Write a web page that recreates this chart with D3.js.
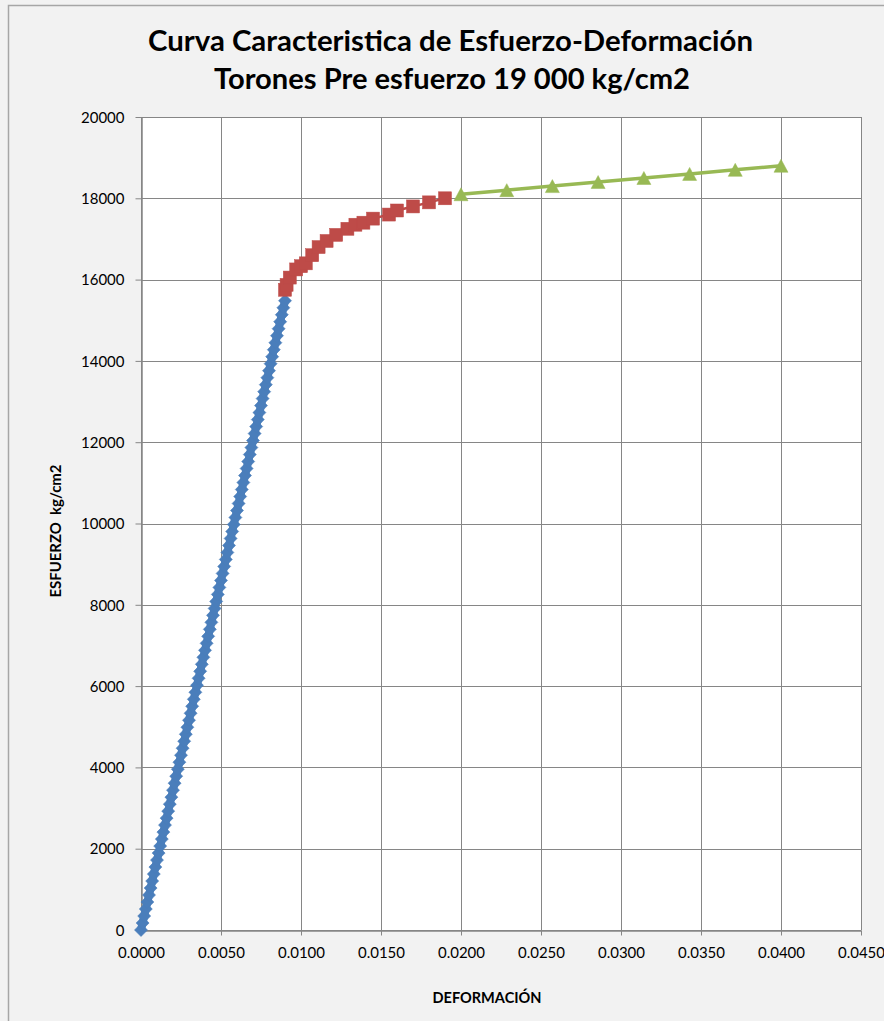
<!DOCTYPE html>
<html>
<head>
<meta charset="utf-8">
<script src="https://cdn.jsdelivr.net/npm/d3@7"></script>
<style>
  html, body { margin: 0; padding: 0; background: #f2f2f2; }
  svg { display: block; }
</style>
</head>
<body>
<script>
// ---- DATA ----
const titleLines = ["Curva Caracteristica de Esfuerzo-Deformación", "Torones Pre esfuerzo 19 000 kg/cm2"];
const xAxisTitle = "DEFORMACIÓN";
const yAxisTitle = "ESFUERZO  kg/cm2";
const xTicks = [0, 0.005, 0.01, 0.015, 0.02, 0.025, 0.03, 0.035, 0.04, 0.045];
const yTicks = [0, 2000, 4000, 6000, 8000, 10000, 12000, 14000, 16000, 18000, 20000];

// Elastic range (blue diamonds)
const elasticStrain = [
  0.0000, 0.0001, 0.0002, 0.0003, 0.0004, 0.0005, 0.0006, 0.0007, 0.0008, 0.0009,
  0.0010, 0.0011, 0.0012, 0.0013, 0.0014, 0.0015, 0.0016, 0.0017, 0.0018, 0.0019,
  0.0020, 0.0021, 0.0022, 0.0023, 0.0024, 0.0025, 0.0026, 0.0027, 0.0028, 0.0029,
  0.0030, 0.0031, 0.0032, 0.0033, 0.0034, 0.0035, 0.0036, 0.0037, 0.0038, 0.0039,
  0.0040, 0.0041, 0.0042, 0.0043, 0.0044, 0.0045, 0.0046, 0.0047, 0.0048, 0.0049,
  0.0050, 0.0051, 0.0052, 0.0053, 0.0054, 0.0055, 0.0056, 0.0057, 0.0058, 0.0059,
  0.0060, 0.0061, 0.0062, 0.0063, 0.0064, 0.0065, 0.0066, 0.0067, 0.0068, 0.0069,
  0.0070, 0.0071, 0.0072, 0.0073, 0.0074, 0.0075, 0.0076, 0.0077, 0.0078, 0.0079,
  0.0080, 0.0081, 0.0082, 0.0083, 0.0084, 0.0085, 0.0086, 0.0087, 0.0088, 0.0089,
  0.0090
];
const elasticStress = [
  0, 172, 344, 516, 688, 860, 1032, 1204, 1376, 1548,
  1720, 1892, 2064, 2236, 2408, 2580, 2752, 2924, 3096, 3268,
  3440, 3612, 3784, 3956, 4128, 4300, 4472, 4644, 4816, 4988,
  5160, 5332, 5504, 5676, 5848, 6020, 6192, 6364, 6536, 6708,
  6880, 7052, 7224, 7396, 7568, 7740, 7912, 8084, 8256, 8428,
  8600, 8772, 8944, 9116, 9288, 9460, 9632, 9804, 9976, 10148,
  10320, 10492, 10664, 10836, 11008, 11180, 11352, 11524, 11696, 11868,
  12040, 12212, 12384, 12556, 12728, 12900, 13072, 13244, 13416, 13588,
  13760, 13932, 14104, 14276, 14448, 14620, 14792, 14964, 15136, 15308,
  15480
];

// Yield zone (red squares)
const yieldStrain = [0.0090, 0.0091, 0.0093, 0.0097, 0.0100, 0.0103, 0.0107, 0.0111, 0.0116, 0.0122,
                     0.0129, 0.0134, 0.0139, 0.0145, 0.0155, 0.0160, 0.0170, 0.0180, 0.0190];
const yieldStress = [15750, 15870, 16050, 16250, 16330, 16400, 16600, 16800, 16950, 17100,
                     17250, 17350, 17400, 17500, 17600, 17700, 17800, 17900, 18000];

// Hardening zone (green triangles)
const hardStrain = [0.0200, 0.02286, 0.02571, 0.02857, 0.03143, 0.03429, 0.03714, 0.0400];
const hardStress = [18100, 18200, 18300, 18400, 18500, 18600, 18700, 18800];

// ---- LAYOUT ----
const W = 884, H = 1021;
const plot = { left: 141, right: 861, top: 117, bottom: 930 };
const font = "Lato, 'Open Sans', 'Liberation Sans', sans-serif";

const svg = d3.select("body").append("svg").attr("width", W).attr("height", H);

svg.append("rect").attr("x", 0).attr("y", 0).attr("width", W).attr("height", H).attr("fill", "#f2f2f2");
// chart outer border (top and left visible)
svg.append("path").attr("d", `M8.5,${H} L8.5,5.5 L${W},5.5`).attr("fill", "none")
  .attr("stroke", "#a6a6a6").attr("stroke-width", 1.5);

const x = d3.scaleLinear().domain([0, 0.045]).range([plot.left, plot.right]);
const y = d3.scaleLinear().domain([0, 20000]).range([plot.bottom, plot.top]);

svg.append("rect").attr("x", plot.left).attr("y", plot.top)
  .attr("width", plot.right - plot.left).attr("height", plot.bottom - plot.top)
  .attr("fill", "#ffffff");

// gridlines
const grid = svg.append("g").attr("stroke", "#868686").attr("stroke-width", 1).attr("shape-rendering", "crispEdges");
grid.selectAll("line.v").data(xTicks).join("line")
  .attr("x1", d => Math.round(x(d)) + 0.5).attr("x2", d => Math.round(x(d)) + 0.5)
  .attr("y1", plot.top).attr("y2", plot.bottom);
grid.selectAll("line.h").data(yTicks).join("line")
  .attr("y1", d => Math.round(y(d)) + 0.5).attr("y2", d => Math.round(y(d)) + 0.5)
  .attr("x1", plot.left).attr("x2", plot.right);

// axes
const xAxis = d3.axisBottom(x).tickValues(xTicks).tickFormat(d3.format(".4f")).tickSizeInner(5).tickSizeOuter(0).tickPadding(12);
const yAxis = d3.axisLeft(y).tickValues(yTicks).tickFormat(d3.format("d")).tickSizeInner(6).tickSizeOuter(0).tickPadding(11);

const gx = svg.append("g").attr("transform", `translate(0,${plot.bottom + 0.5})`).call(xAxis);
const gy = svg.append("g").attr("transform", `translate(${plot.left + 0.5},0)`).call(yAxis);
[gx, gy].forEach(g => {
  g.select(".domain").attr("stroke", "#868686").attr("stroke-width", 1.5);
  g.selectAll(".tick line").attr("stroke", "#868686");
  g.selectAll("text").attr("fill", "#000").style("font-family", font).style("font-size", "15px");
});
gy.selectAll(".tick text").attr("dy", "0.35em");

// line generator
const line = d3.line().x(d => x(d[0])).y(d => y(d[1]));

const blue = d3.zip(elasticStrain, elasticStress);
const red = d3.zip(yieldStrain, yieldStress);
const green = d3.zip(hardStrain, hardStress);

// Blue series
svg.append("path").datum(blue).attr("d", line).attr("fill", "none").attr("stroke", "#4a7ebb").attr("stroke-width", 8);
const dr = 6.5;
svg.append("g").selectAll("path").data(blue).join("path")
  .attr("transform", d => `translate(${x(d[0])},${y(d[1])})`)
  .attr("d", `M0,${-dr} L${dr},0 L0,${dr} L${-dr},0 Z`)
  .attr("fill", "#4a7ebb").attr("stroke", "#4a7ebb").attr("stroke-width", 0.6);

// Red series
svg.append("path").datum(red).attr("d", line).attr("fill", "none").attr("stroke", "#be4b48").attr("stroke-width", 2.5);
const sq = 13;
svg.append("g").selectAll("rect").data(red).join("rect")
  .attr("x", d => x(d[0]) - sq / 2).attr("y", d => y(d[1]) - sq / 2)
  .attr("width", sq).attr("height", sq)
  .attr("fill", "#be4b48").attr("stroke", "#be4b48").attr("stroke-width", 0.5);

// Green series
svg.append("path").datum(green).attr("d", line).attr("fill", "none").attr("stroke", "#98b954").attr("stroke-width", 3.5);
const tw = 7, th = 6.5;
svg.append("g").selectAll("path").data(green).join("path")
  .attr("transform", d => `translate(${x(d[0])},${y(d[1])})`)
  .attr("d", `M0,${-th} L${tw},${th} L${-tw},${th} Z`)
  .attr("fill", "#98b954").attr("stroke", "#98b954").attr("stroke-width", 0.5);

// Title
svg.append("text").attr("x", 450.5).attr("y", 51).attr("text-anchor", "middle")
  .style("font-family", font).style("font-weight", "bold").style("font-size", "28px")
  .attr("textLength", 605).attr("lengthAdjust", "spacingAndGlyphs")
  .text(titleLines[0]);
svg.append("text").attr("x", 452).attr("y", 89).attr("text-anchor", "middle")
  .style("font-family", font).style("font-weight", "bold").style("font-size", "28px")
  .attr("textLength", 476).attr("lengthAdjust", "spacingAndGlyphs")
  .text(titleLines[1]);

// Axis titles
svg.append("text").attr("x", 487).attr("y", 1003).attr("text-anchor", "middle")
  .style("font-family", font).style("font-weight", "bold").style("font-size", "15px")
  .attr("textLength", 109).attr("lengthAdjust", "spacingAndGlyphs")
  .text(xAxisTitle);
svg.append("text").attr("transform", "translate(61,531) rotate(-90)").attr("text-anchor", "middle")
  .style("font-family", font).style("font-weight", "bold").style("font-size", "15px")
  .style("white-space", "pre").attr("xml:space", "preserve")
  .attr("textLength", 133).attr("lengthAdjust", "spacingAndGlyphs")
  .text(yAxisTitle);
</script>
</body>
</html>
